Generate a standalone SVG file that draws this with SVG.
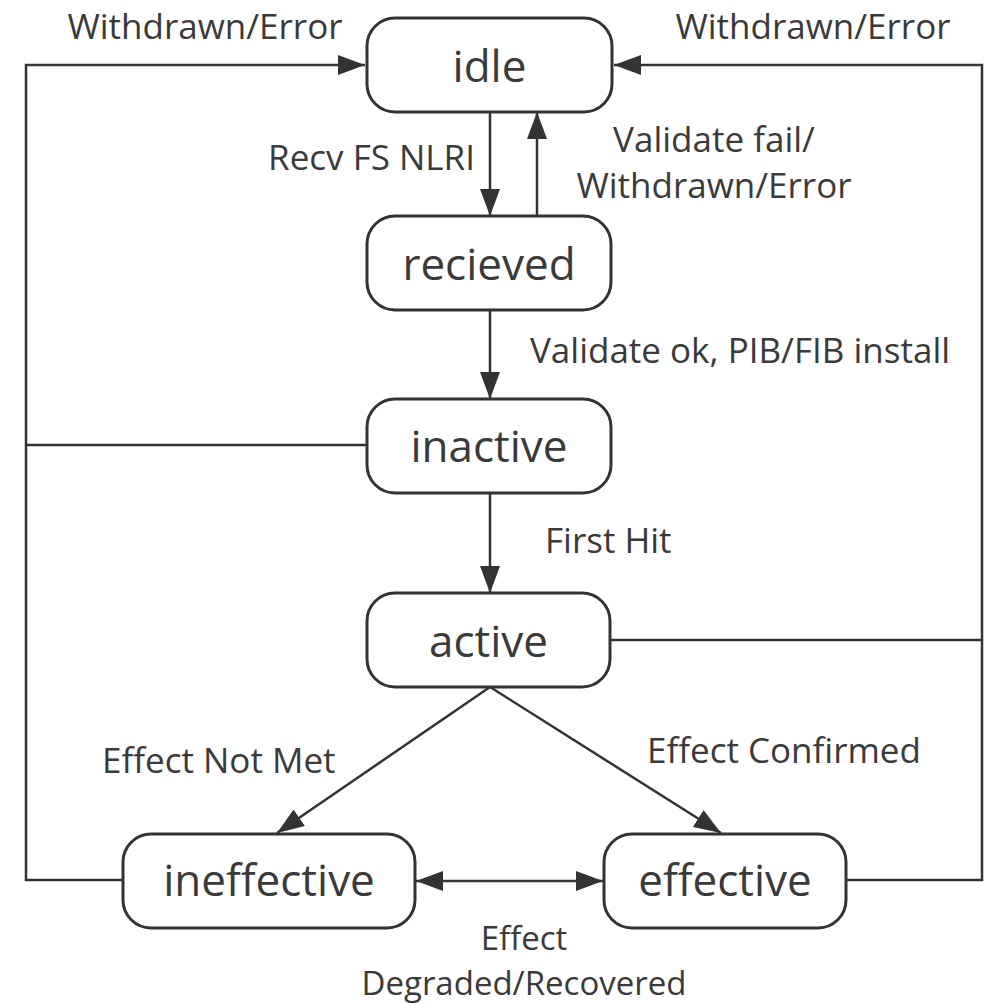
<svg xmlns="http://www.w3.org/2000/svg" width="987" height="1003" viewBox="0 0 987 1003">
<style>
.node rect{fill:#fff;stroke:#333;stroke-width:3}
.node text{font-family:"Open Sans","Liberation Sans",sans-serif;font-size:44px;fill:#3a3a3a;text-anchor:middle}
.conn{fill:none;stroke:#333;stroke-width:2.5}
.lbl{font-family:"Open Sans","Liberation Sans",sans-serif;font-size:35px;fill:#3a3a3a}
.lbl2{font-family:"Open Sans","Liberation Sans",sans-serif;font-size:33px;fill:#3a3a3a;text-anchor:middle}
</style>
<defs>
<marker id="ah" markerUnits="userSpaceOnUse" markerWidth="28" markerHeight="20" refX="27" refY="10" orient="auto-start-reverse">
<path d="M0,0 L27,10 L0,20 z" fill="#333"/>
</marker>
</defs>
<rect width="987" height="1003" fill="#fff"/>
<g id="connectors">
<polyline class="conn" points="123,880 26,880 26,65 365,65" marker-end="url(#ah)"/>
<line class="conn" x1="367" y1="445" x2="26" y2="445"/>
<polyline class="conn" points="846,880 982,880 982,65 614,65" marker-end="url(#ah)"/>
<line class="conn" x1="610" y1="640" x2="982" y2="640"/>
<line class="conn" x1="490" y1="112" x2="490" y2="216" marker-end="url(#ah)"/>
<line class="conn" x1="537" y1="216" x2="537" y2="112" marker-end="url(#ah)"/>
<line class="conn" x1="490" y1="310" x2="490" y2="399" marker-end="url(#ah)"/>
<line class="conn" x1="490" y1="493" x2="490" y2="593" marker-end="url(#ah)"/>
<line class="conn" x1="490" y1="687" x2="277" y2="833" marker-end="url(#ah)"/>
<line class="conn" x1="490" y1="687" x2="721" y2="833" marker-end="url(#ah)"/>
<line class="conn" x1="416" y1="881" x2="603" y2="881" marker-start="url(#ah)" marker-end="url(#ah)"/>
</g>
<g id="labels">
<text class="lbl" x="205" y="39" text-anchor="middle">Withdrawn/Error</text>
<text class="lbl" x="813" y="39" text-anchor="middle">Withdrawn/Error</text>
<text class="lbl" x="475" y="170" text-anchor="end">Recv FS NLRI</text>
<text class="lbl" x="714" y="152" text-anchor="middle">Validate fail/</text>
<text class="lbl" x="714" y="198" text-anchor="middle">Withdrawn/Error</text>
<text class="lbl" x="530" y="363">Validate ok, PIB/FIB install</text>
<text class="lbl" x="545" y="553">First Hit</text>
<text class="lbl" x="102" y="773">Effect Not Met</text>
<text class="lbl" x="647" y="763">Effect Confirmed</text>
<text class="lbl2" x="524" y="950">Effect</text>
<text class="lbl2" x="524" y="995">Degraded/Recovered</text>
</g>
<g id="idle" class="node"><rect x="367" y="18" width="245" height="94" rx="28"/><text x="489.5" y="82">idle</text></g>
<g id="recieved" class="node"><rect x="367" y="216" width="244" height="94" rx="28"/><text x="489" y="280">recieved</text></g>
<g id="inactive" class="node"><rect x="367" y="399" width="244" height="94" rx="28"/><text x="489" y="462">inactive</text></g>
<g id="active" class="node"><rect x="367" y="593" width="243" height="94" rx="28"/><text x="488.5" y="657">active</text></g>
<g id="ineffective" class="node"><rect x="123" y="834" width="292" height="94" rx="28"/><text x="269" y="896">ineffective</text></g>
<g id="effective" class="node"><rect x="604" y="834" width="242" height="94" rx="28"/><text x="725" y="896">effective</text></g>
</svg>
